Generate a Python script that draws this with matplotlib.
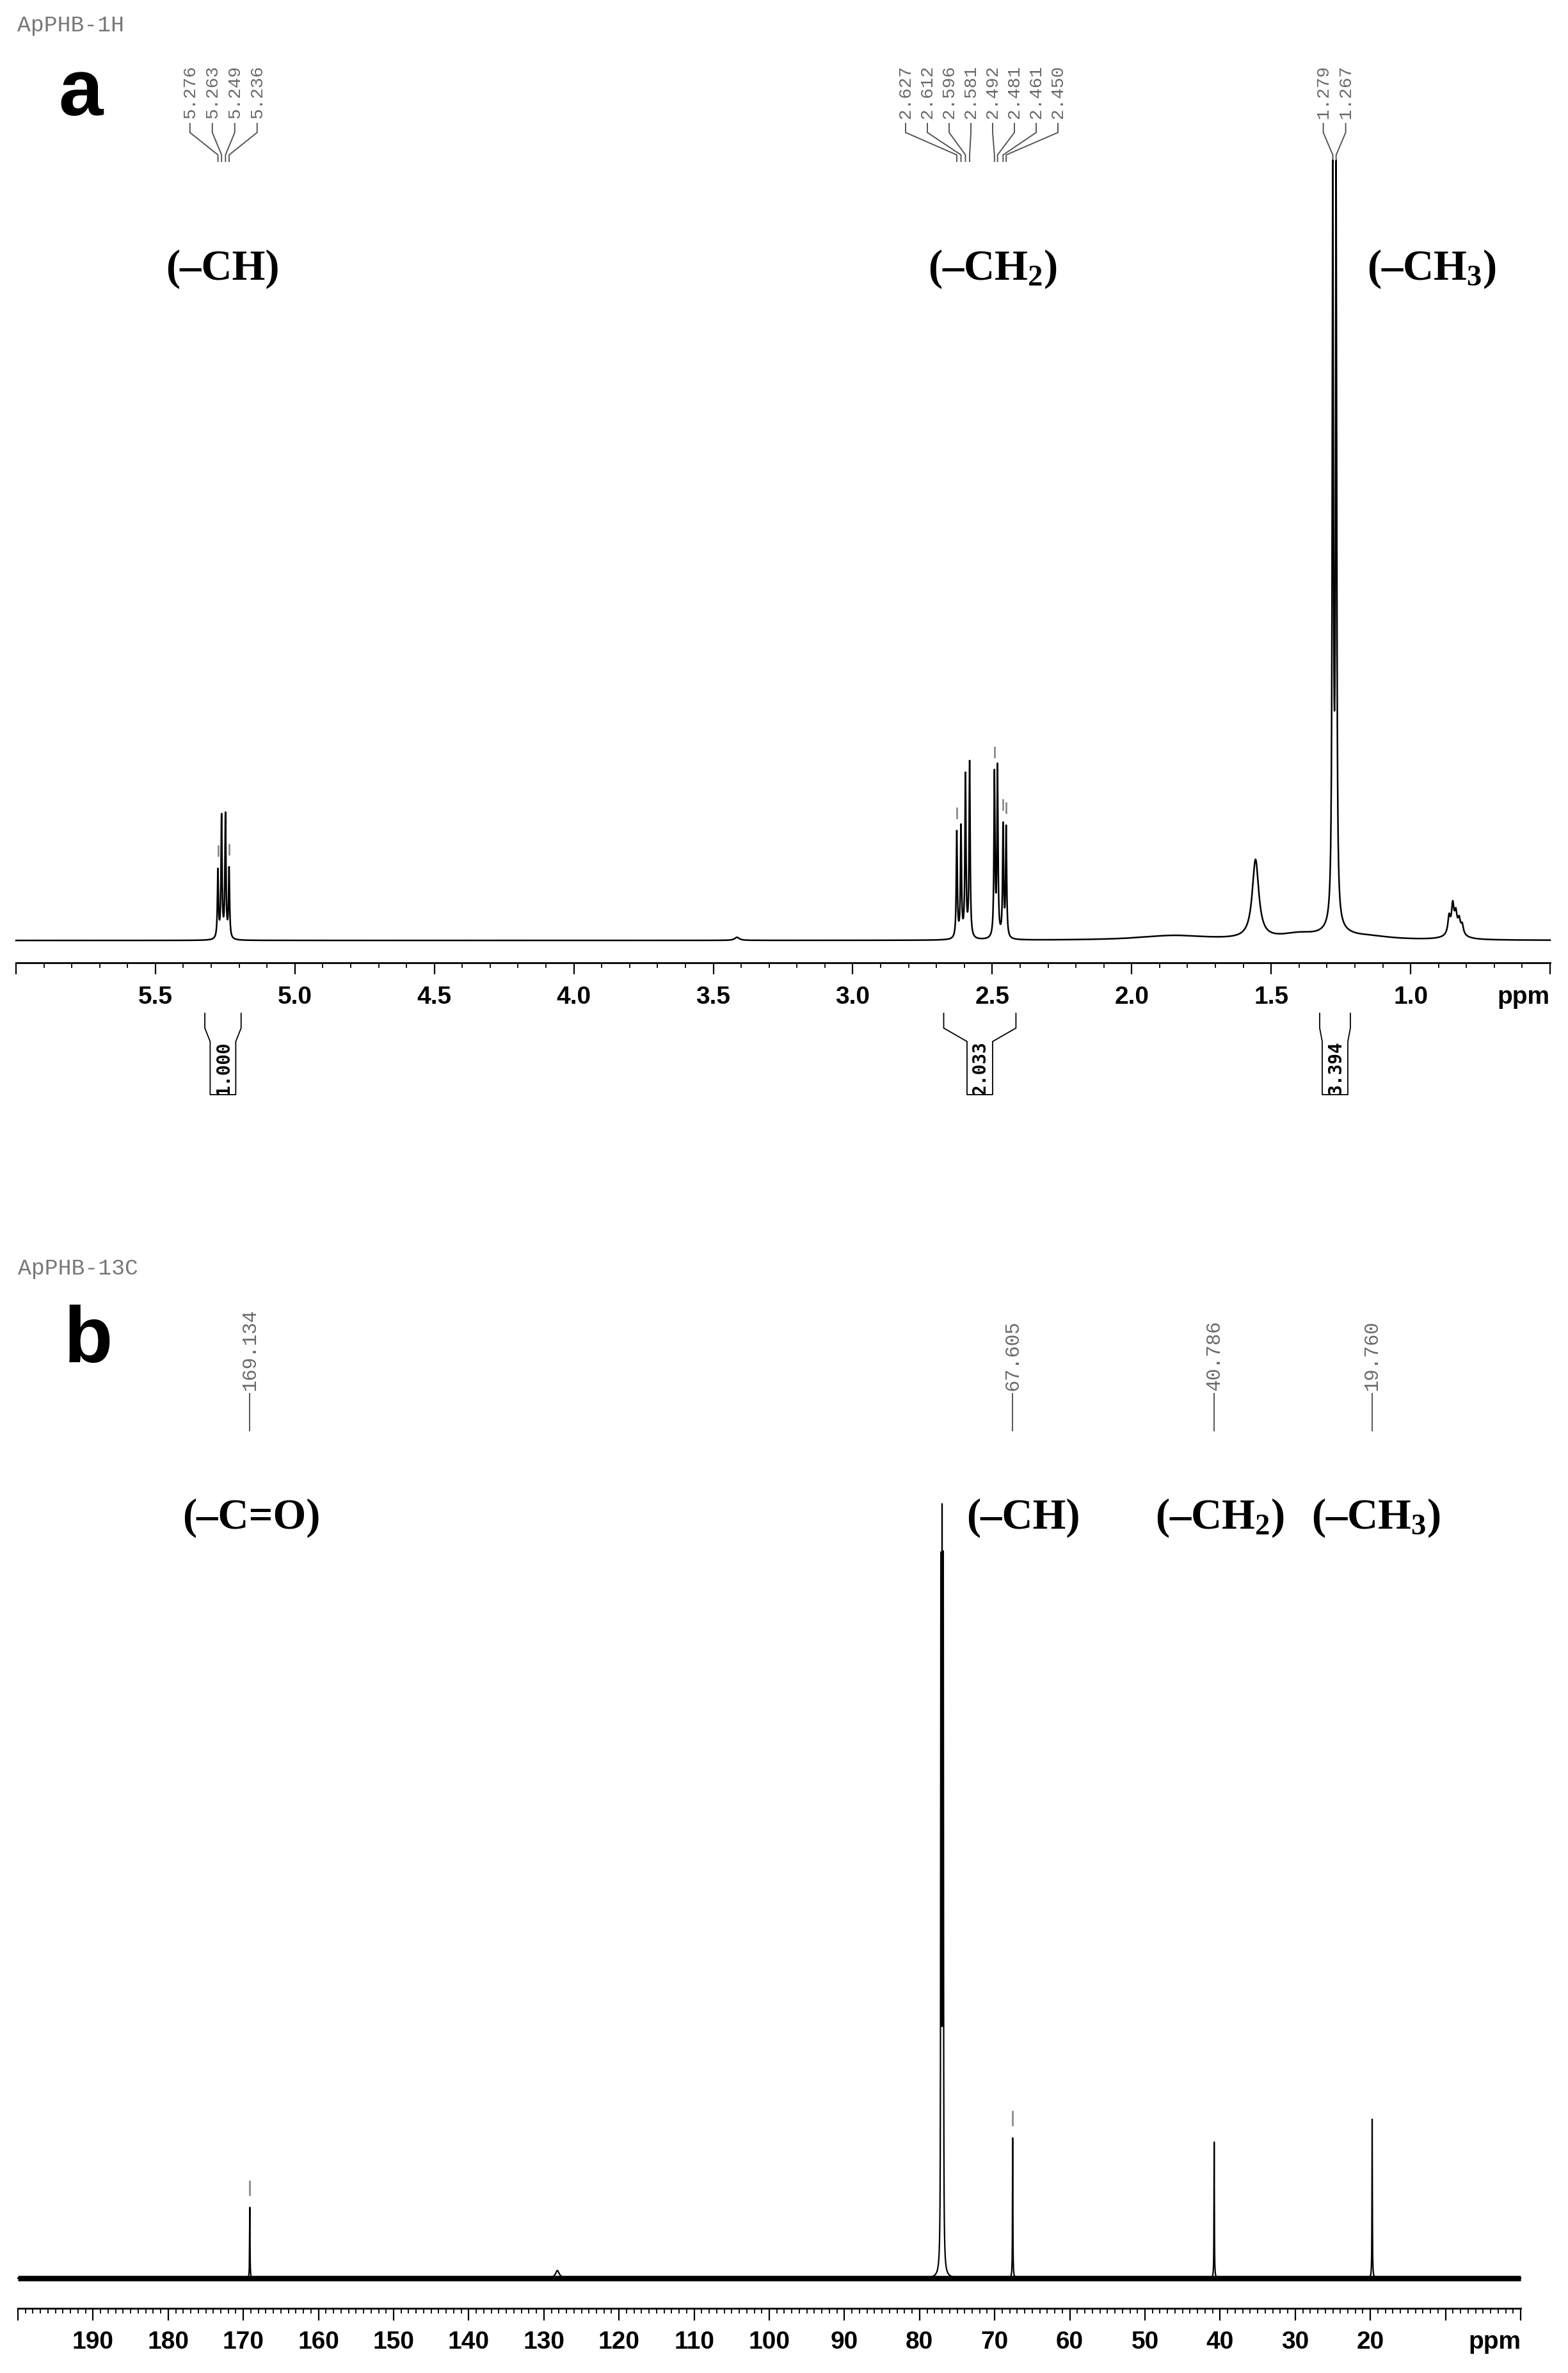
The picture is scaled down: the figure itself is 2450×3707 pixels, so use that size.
import numpy as np
import matplotlib
matplotlib.use('Agg')
import matplotlib.pyplot as plt
from matplotlib.ticker import MultipleLocator

W, H, DPI = 2450, 3707, 100

# ---- 1H spectrum: peak table (ppm, normalised height, half width in ppm)
h_shift = [5.276, 5.263, 5.249, 5.236,
           2.627, 2.612, 2.596, 2.581, 2.492, 2.481, 2.461, 2.450,
           1.279, 1.267, 1.556,
           0.862, 0.849, 0.838, 0.826, 0.815, 0.840,
           1.40, 1.27, 1.15, 1.85, 3.415]
h_height = [0.088, 0.158, 0.160, 0.090,
            0.138, 0.143, 0.210, 0.228, 0.212, 0.219, 0.144, 0.142,
            0.960, 0.960, 0.102,
            0.022, 0.034, 0.022, 0.016, 0.012, 0.010,
            0.007, 0.010, 0.004, 0.006, 0.004]
h_width = [0.0022, 0.0022, 0.0022, 0.0022,
           0.0022, 0.0022, 0.0022, 0.0022, 0.0022, 0.0022, 0.0022, 0.0022,
           0.0025, 0.0025, 0.014,
           0.005, 0.005, 0.005, 0.005, 0.005, 0.03,
           0.08, 0.05, 0.10, 0.15, 0.01]

h_labels = [['5.276', '5.263', '5.249', '5.236'],
            ['2.627', '2.612', '2.596', '2.581', '2.492', '2.481', '2.461', '2.450'],
            ['1.279', '1.267']]
h_marked = [5.276, 5.236, 2.627, 2.492, 2.461, 2.450]

h_int_lo = [5.323, 2.674, 1.326]
h_int_hi = [5.193, 2.415, 1.216]
h_int_val = ['1.000', '2.033', '3.394']

h_ticks = [6.0, 5.5, 5.0, 4.5, 4.0, 3.5, 3.0, 2.5, 2.0, 1.5, 1.0, 0.5]
h_ticklabels = ['', '5.5', '5.0', '4.5', '4.0', '3.5', '3.0', '2.5', '2.0', '1.5', '1.0', '']

h_groups = ['(\u2013CH)', '(\u2013CH$_2$)', '(\u2013CH$_3$)']
h_group_x = [348, 1551, 2237]

# ---- 13C spectrum
c_shift = [169.134, 77.16, 77.00, 76.84, 77.00, 67.605, 40.786, 19.760, 128.2]
c_height = [0.091, 0.87, 0.88, 0.87, 0.035, 0.180, 0.175, 0.204, 0.010]
c_width = [0.03, 0.035, 0.035, 0.035, 0.12, 0.03, 0.03, 0.03, 0.3]
c_noise = 0.0035

c_labels = ['169.134', '67.605', '40.786', '19.760']
c_label_pos = [169.134, 67.605, 40.786, 19.760]
c_marked = [169.134, 67.605]

c_ticks = list(range(200, -1, -10))
c_ticklabels = ['' if t in (200, 10, 0) else str(t) for t in c_ticks]

c_groups = ['(\u2013C=O)', '(\u2013CH)', '(\u2013CH$_2$)', '(\u2013CH$_3$)']
c_group_x = [393, 1599, 1906, 2150]

plt.rcParams['mathtext.fontset'] = 'custom'
plt.rcParams['mathtext.rm'] = 'Liberation Serif:bold'
plt.rcParams['mathtext.default'] = 'regular'

TICKFONT = ['Liberation Sans Narrow', 'Liberation Sans']
GREY = '#6a6a6a'


def lorentz(x, shifts, heights, widths):
    y = np.zeros_like(x)
    for s, h, w in zip(shifts, heights, widths):
        y += h * w ** 2 / ((x - s) ** 2 + w ** 2)
    return y


fig = plt.figure(figsize=(W / DPI, H / DPI), dpi=DPI)
fig.patch.set_facecolor('white')
ov = fig.add_axes([0, 0, 1, 1])
ov.set_xlim(0, W)
ov.set_ylim(H, 0)
ov.axis('off')


def box(left, right, top, bottom):
    return [left / W, 1 - bottom / H, (right - left) / W, (bottom - top) / H]


def to_px(ax, xs, ys):
    disp = ax.transData.transform(np.column_stack([xs, ys]))
    return ov.transData.inverted().transform(disp)


def style_axis(ax, ticks, labels, minor, size, tlen, pad):
    for s in ('top', 'left', 'right'):
        ax.spines[s].set_visible(False)
    ax.spines['bottom'].set_linewidth(2.0)
    ax.set_facecolor('none')
    ax.set_yticks([])
    ax.set_xticks(ticks, labels, fontsize=size, fontweight='bold', family=TICKFONT)
    ax.xaxis.set_minor_locator(MultipleLocator(minor))
    ax.tick_params(axis='x', which='major', direction='out', length=tlen, width=1.6, pad=pad)
    ax.tick_params(axis='x', which='minor', direction='out', length=5.5, width=1.3)


def markers(ax, x, y, shifts, gap, length, win):
    for s in shifts:
        top = y[np.abs(x - s) < win].max()
        ax.plot([s, s], [top + gap, top + gap + length], color='#8a8a8a', lw=2.0,
                solid_capstyle='butt', clip_on=False)


# ================= panel a : 1H =================
ax1 = fig.add_axes(box(25, 2422, 267, 1504))
ax1.set_xlim(6.0, 0.5)
ax1.set_ylim(-0.029, 1.0)
hx = np.linspace(0.5, 6.0, 30000)
hy = lorentz(hx, h_shift, h_height, h_width)
ax1.plot(hx, hy, color='black', lw=1.8, clip_on=False)
style_axis(ax1, h_ticks, h_ticklabels, 0.1, 28, 13, 13)
markers(ax1, hx, hy, h_marked, 0.015, 0.015, 0.004)

ov.text(2421, 1504 + 26 * DPI / 72, 'ppm', ha='right', va='top', fontsize=28,
        fontweight='bold', family=TICKFONT)

# peak pick labels
spacing = [35, 34, 35]
for grp, sp in zip(h_labels, spacing):
    shifts = [float(t) for t in grp]
    px = to_px(ax1, shifts, np.zeros(len(shifts)))[:, 0]
    lx = px.mean() + (np.arange(len(px)) - (len(px) - 1) / 2) * sp
    for t, l, p in zip(grp, lx, px):
        ov.plot([l, l, p, p], [193, 207, 242, 252], color='#555555', lw=1.4)
        ov.text(l, 185, t, rotation=90, ha='center', va='bottom', fontsize=20,
                family='Liberation Mono', color=GREY)

# integrals
for lo, hi, val in zip(h_int_lo, h_int_hi, h_int_val):
    xa, xb = to_px(ax1, [lo, hi], [0, 0])[:, 0]
    c = (xa + xb) / 2
    hw = 20
    ov.plot([xa, xa, c - hw, c - hw, c + hw, c + hw, xb, xb],
            [1583, 1606, 1627, 1710, 1710, 1627, 1606, 1583], color='black', lw=1.3)
    ov.text(c + 1, 1668, val, rotation=90, ha='center', va='center', fontsize=20,
            fontweight='bold', family='DejaVu Sans Mono')

for g, gx in zip(h_groups, h_group_x):
    ov.text(gx, 437, g, ha='center', va='baseline', fontsize=48, fontweight='bold',
            family='Liberation Serif')

ov.text(27, 39, 'ApPHB-1H', ha='left', va='center', fontsize=25,
        family='Liberation Mono', color='#777777')
ov.text(126, 180, 'a', ha='center', va='baseline', fontsize=90, fontweight='bold',
        family='Liberation Sans')

# ================= panel b : 13C =================
ax2 = fig.add_axes(box(28, 2376, 2341, 3606))
ax2.set_xlim(200, 0)
ax2.set_ylim(-0.0386, 1.0)
cx = np.linspace(0, 200, 60000)
cy = lorentz(cx, c_shift, c_height, c_width)
ax2.fill_between(cx, -c_noise, c_noise, color='black', lw=0)
ax2.plot(cx, cy, color='black', lw=1.6, clip_on=False)
style_axis(ax2, c_ticks, c_ticklabels, 1, 28, 13.5, 11.5)
markers(ax2, cx, cy, c_marked, 0.015, 0.02, 0.1)

ov.text(2376, 3606 + 25 * DPI / 72, 'ppm', ha='right', va='top', fontsize=28,
        fontweight='bold', family=TICKFONT)

px = to_px(ax2, c_label_pos, np.zeros(len(c_label_pos)))[:, 0]
for t, p in zip(c_labels, px):
    ov.plot([p, p], [2177, 2235], color='#555555', lw=1.4)
    ov.text(p, 2172, t, rotation=90, ha='center', va='bottom', fontsize=22,
            family='Liberation Mono', color=GREY)

for g, gx in zip(c_groups, c_group_x):
    ov.text(gx, 2388, g, ha='center', va='baseline', fontsize=48, fontweight='bold',
            family='Liberation Serif')

ov.text(28, 1982, 'ApPHB-13C', ha='left', va='center', fontsize=25,
        family='Liberation Mono', color='#777777')
ov.text(138, 2128, 'b', ha='center', va='baseline', fontsize=90, fontweight='bold',
        family='Liberation Sans')

fig.savefig('out.png', dpi=DPI, facecolor='white')
